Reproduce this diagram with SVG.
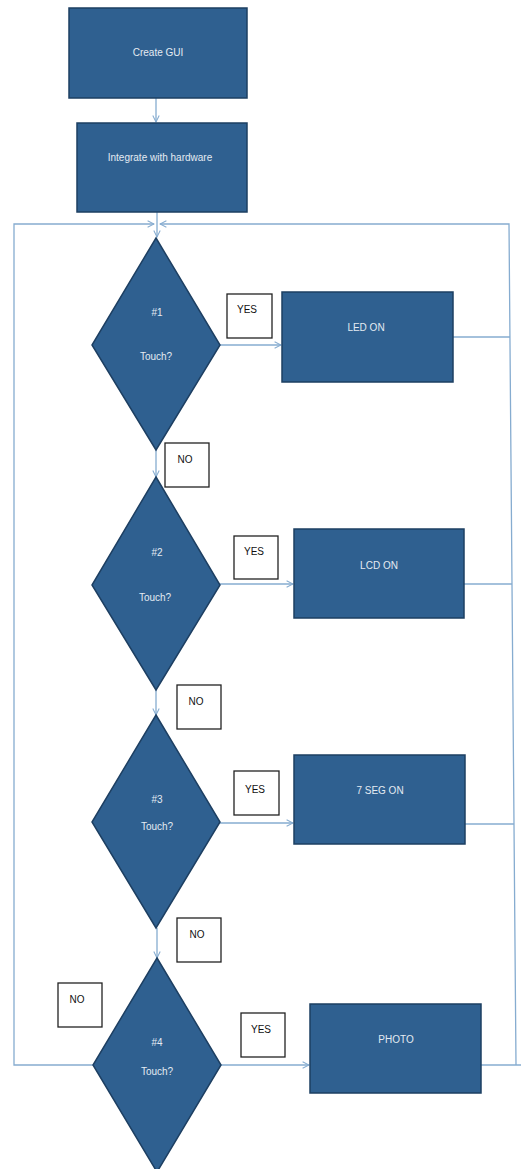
<svg xmlns="http://www.w3.org/2000/svg" width="521" height="1169" viewBox="0 0 521 1169">
<style>
.box{fill:#2f6090;stroke:#1d3f62;stroke-width:1.5}
.lbl{fill:#ffffff;stroke:#222222;stroke-width:1.3}
.wt{fill:#e4ebf2;font-family:"Liberation Sans",Arial,sans-serif;font-size:10px;text-anchor:middle}
.bt{fill:#111111;font-family:"Liberation Sans",Arial,sans-serif;font-size:10px;text-anchor:middle}
.ln{fill:none;stroke:#86acd0;stroke-width:1.3}
</style>
<defs>
<marker id="ah" viewBox="0 0 10 10" refX="9" refY="5" markerWidth="8" markerHeight="8" orient="auto" markerUnits="userSpaceOnUse">
<polyline points="1,1 9,5 1,9" fill="none" stroke="#86acd0" stroke-width="1.3"/>
</marker>
</defs>
<rect width="521" height="1169" fill="#ffffff"/>
<g id="connectors">
<line class="ln" x1="156" y1="98" x2="156" y2="122" marker-end="url(#ah)"/>
<line class="ln" x1="157" y1="212" x2="157" y2="237" marker-end="url(#ah)"/>
<polyline class="ln" points="93,1065 14,1065 14,224 154,224" marker-end="url(#ah)"/>
<polyline class="ln" points="516,1065 509,224 160,224" marker-end="url(#ah)"/>
<line class="ln" x1="453" y1="337" x2="510" y2="337"/>
<line class="ln" x1="464" y1="584" x2="512" y2="584"/>
<line class="ln" x1="465" y1="824" x2="514" y2="824"/>
<line class="ln" x1="481" y1="1065" x2="521" y2="1065"/>
<line class="ln" x1="220" y1="345" x2="281" y2="345" marker-end="url(#ah)"/>
<line class="ln" x1="220" y1="584" x2="293" y2="584" marker-end="url(#ah)"/>
<line class="ln" x1="220" y1="823" x2="293" y2="823" marker-end="url(#ah)"/>
<line class="ln" x1="221" y1="1065" x2="309" y2="1065" marker-end="url(#ah)"/>
<line class="ln" x1="156" y1="450" x2="156" y2="477" marker-end="url(#ah)"/>
<line class="ln" x1="156" y1="690" x2="156" y2="715" marker-end="url(#ah)"/>
<line class="ln" x1="157" y1="928" x2="157" y2="958" marker-end="url(#ah)"/>
</g>
<g id="create-gui">
<rect class="box" x="69" y="8" width="178" height="90"/>
<text class="wt" x="158" y="56">Create GUI</text>
</g>
<g id="integrate">
<rect class="box" x="77" y="123" width="170" height="89"/>
<text class="wt" x="160" y="161">Integrate with hardware</text>
</g>
<g id="d1">
<polygon class="box" points="156,238 220,345 156,450 92,345"/>
<text class="wt" x="157" y="316">#1</text>
<text class="wt" x="156" y="360">Touch?</text>
</g>
<g id="yes1">
<rect class="lbl" x="227" y="294" width="45" height="44"/>
<text class="bt" x="247" y="313">YES</text>
</g>
<g id="led-on">
<rect class="box" x="282" y="292" width="171" height="90"/>
<text class="wt" x="366" y="331">LED ON</text>
</g>
<g id="no1">
<rect class="lbl" x="165" y="443" width="44" height="44"/>
<text class="bt" x="185" y="463">NO</text>
</g>
<g id="d2">
<polygon class="box" points="156,477 220,585 156,690 92,585"/>
<text class="wt" x="157" y="556">#2</text>
<text class="wt" x="155" y="601">Touch?</text>
</g>
<g id="yes2">
<rect class="lbl" x="234" y="536" width="44" height="43"/>
<text class="bt" x="254" y="555">YES</text>
</g>
<g id="lcd-on">
<rect class="box" x="294" y="529" width="170" height="89"/>
<text class="wt" x="379" y="569">LCD ON</text>
</g>
<g id="no2">
<rect class="lbl" x="177" y="685" width="44" height="44"/>
<text class="bt" x="196" y="705">NO</text>
</g>
<g id="d3">
<polygon class="box" points="156,715 220,822 156,928 92,822"/>
<text class="wt" x="157" y="803">#3</text>
<text class="wt" x="157" y="830">Touch?</text>
</g>
<g id="yes3">
<rect class="lbl" x="234" y="771" width="45" height="44"/>
<text class="bt" x="255" y="793">YES</text>
</g>
<g id="seg-on">
<rect class="box" x="294" y="755" width="171" height="89"/>
<text class="wt" x="380" y="794">7 SEG ON</text>
</g>
<g id="no3">
<rect class="lbl" x="177" y="918" width="44" height="44"/>
<text class="bt" x="197" y="938">NO</text>
</g>
<g id="d4">
<polygon class="box" points="157,958 221,1065 157,1172 93,1065"/>
<text class="wt" x="157" y="1046">#4</text>
<text class="wt" x="157" y="1075">Touch?</text>
</g>
<g id="no4">
<rect class="lbl" x="58" y="983" width="44" height="44"/>
<text class="bt" x="77" y="1003">NO</text>
</g>
<g id="yes4">
<rect class="lbl" x="241" y="1013" width="44" height="44"/>
<text class="bt" x="261" y="1033">YES</text>
</g>
<g id="photo">
<rect class="box" x="310" y="1004" width="171" height="89"/>
<text class="wt" x="396" y="1043">PHOTO</text>
</g>
</svg>
